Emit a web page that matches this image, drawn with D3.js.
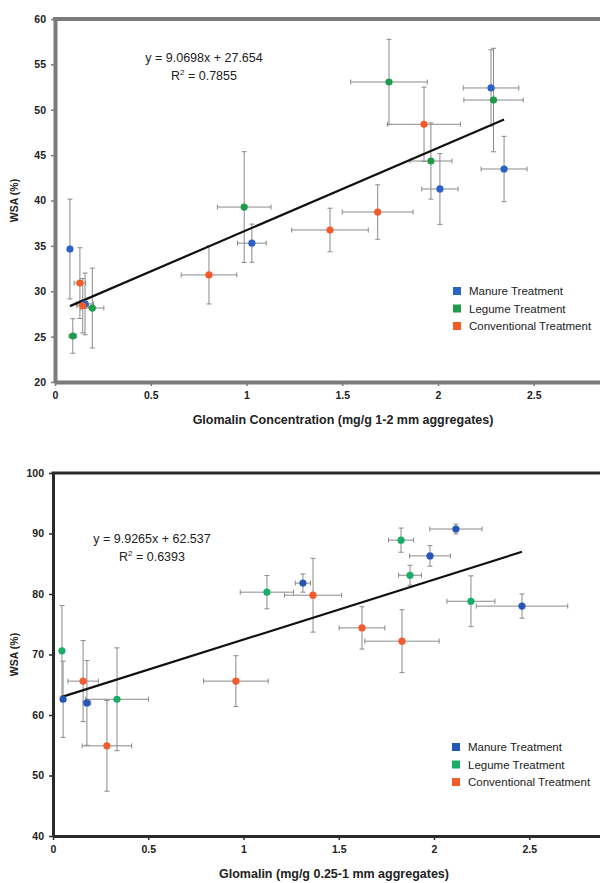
<!DOCTYPE html>
<html>
<head>
<meta charset="utf-8">
<script src="https://cdn.jsdelivr.net/npm/d3@7"></script>
<style>
  body { margin: 0; background: #fff; }
  svg { display: block; font-family: "Liberation Sans", Arial, sans-serif; }
</style>
</head>
<body>
<svg id="chart"></svg>
<script>
// data, top chart (1-2 mm aggregates)
const manureTopX = [0.078, 0.157, 1.028, 2.01, 2.277, 2.345]
const manureTopY = [34.65, 28.6, 35.3, 41.27, 52.4, 43.47]
const manureTopXErr = [0.01, 0.045, 0.075, 0.095, 0.145, 0.12]
const manureTopYErr = [5.5, 3.4, 2.1, 3.9, 4.2, 3.6]

const legumeTopX = [0.093, 0.195, 0.988, 1.744, 1.963, 2.29]
const legumeTopY = [25.07, 28.15, 39.28, 53.06, 44.35, 51.07]
const legumeTopXErr = [0.02, 0.06, 0.14, 0.2, 0.11, 0.155]
const legumeTopYErr = [1.9, 4.4, 6.1, 4.7, 4.2, 5.7]

const convTopX = [0.13, 0.145, 0.804, 1.436, 1.685, 1.927]
const convTopY = [30.9, 28.4, 31.8, 36.75, 38.73, 48.4]
const convTopXErr = [0.03, 0.03, 0.145, 0.2, 0.185, 0.19]
const convTopYErr = [3.9, 3.0, 3.2, 2.4, 3.0, 4.1]

// bottom chart (0.25-1 mm aggregates)
const manureBotX = [0.053, 0.178, 1.312, 1.979, 2.115, 2.462]
const manureBotY = [62.6, 62.0, 81.8, 86.3, 90.74, 78.0]
const manureBotXErr = [0.01, 0.02, 0.04, 0.107, 0.137, 0.24]
const manureBotYErr = [6.3, 7.0, 1.5, 1.7, 0.8, 2.0]

const legumeBotX = [0.047, 0.336, 1.123, 1.827, 1.874, 2.194]
const legumeBotY = [70.6, 62.6, 80.3, 88.9, 83.1, 78.8]
const legumeBotXErr = [0.01, 0.165, 0.14, 0.066, 0.06, 0.126]
const legumeBotYErr = [7.5, 8.5, 2.75, 2.0, 1.65, 4.2]

const convBotX = [0.158, 0.283, 0.96, 1.365, 1.622, 1.832]
const convBotY = [65.6, 54.9, 65.6, 79.8, 74.4, 72.2]
const convBotXErr = [0.08, 0.13, 0.17, 0.15, 0.12, 0.195]
const convBotYErr = [6.7, 7.5, 4.2, 6.1, 3.5, 5.2]

// trend lines
const slopes = [9.0698, 9.9265]
const intercepts = [27.654, 62.537]
const equations = ["y = 9.0698x + 27.654", "y = 9.9265x + 62.537"]
const rSquared = ["0.7855", "0.6393"]

const seriesNames = ["Manure Treatment", "Legume Treatment", "Conventional Treatment"]
const xTicks = [0, 0.5, 1, 1.5, 2, 2.5]
const xTickLabels = ["0", "0.5", "1", "1.5", "2", "2.5"]
const yTicksTop = [20, 25, 30, 35, 40, 45, 50, 55, 60]
const yTicksBot = [40, 50, 60, 70, 80, 90, 100]
const xTitles = ["Glomalin Concentration (mg/g 1-2 mm aggregates)", "Glomalin (mg/g 0.25-1 mm aggregates)"]
const yTitle = "WSA (%)"

let width = 600
let height = 883

let svg = d3.select("#chart")
svg.attr("width", width).attr("height", height)

let zip = (xs, ys, xe, ye) => xs.map((x, i) => ({ x: x, y: ys[i], xe: xe[i], ye: ye[i] }))

let charts = [
    {
        left: 55, top: 19, bottom: 382, unit: 191.5, yDomain: [20, 60], yTicks: yTicksTop,
        axisColor: "#7b7b7b", axisWidth: 4, eqX: 204, eqY: 62, titleX: 343,
        legendX: 453, legendY: 291,
        colors: ["#2b62c6", "#1f9c4a", "#f25a2a"],
        series: [
            zip(manureTopX, manureTopY, manureTopXErr, manureTopYErr),
            zip(legumeTopX, legumeTopY, legumeTopXErr, legumeTopYErr),
            zip(convTopX, convTopY, convTopXErr, convTopYErr)
        ]
    },
    {
        left: 53, top: 473, bottom: 836, unit: 190.5, yDomain: [40, 100], yTicks: yTicksBot,
        axisColor: "#2a2a2a", axisWidth: 3, eqX: 152, eqY: 543, titleX: 334,
        legendX: 452, legendY: 747,
        colors: ["#2656b8", "#19ad68", "#f35a2c"],
        series: [
            zip(manureBotX, manureBotY, manureBotXErr, manureBotYErr),
            zip(legumeBotX, legumeBotY, legumeBotXErr, legumeBotYErr),
            zip(convBotX, convBotY, convBotXErr, convBotYErr)
        ]
    }
]

charts.forEach((c, k) => {
    let g = svg.append("g")

    let xScale = d3.scaleLinear().domain([0, 3]).range([c.left, c.left + 3 * c.unit])
    let yScale = d3.scaleLinear().domain(c.yDomain).range([c.bottom, c.top])

    // error bars
    let capY = 2.5
    c.series.forEach((s, si) => {
        let eg = g.append("g").attr("stroke", "#8a8a8a").attr("stroke-width", 1).attr("fill", "none")
        s.forEach(d => {
            let cx = xScale(d.x), cy = yScale(d.y)
            let y1 = yScale(d.y + d.ye), y2 = yScale(d.y - d.ye)
            let x1 = xScale(d.x - d.xe), x2 = xScale(d.x + d.xe)
            eg.append("line").attr("x1", cx).attr("x2", cx).attr("y1", y1).attr("y2", y2)
            eg.append("line").attr("x1", cx - capY).attr("x2", cx + capY).attr("y1", y1).attr("y2", y1)
            eg.append("line").attr("x1", cx - capY).attr("x2", cx + capY).attr("y1", y2).attr("y2", y2)
            eg.append("line").attr("x1", x1).attr("x2", x2).attr("y1", cy).attr("y2", cy)
            eg.append("line").attr("x1", x1).attr("x2", x1).attr("y1", cy - capY).attr("y2", cy + capY)
            eg.append("line").attr("x1", x2).attr("x2", x2).attr("y1", cy - capY).attr("y2", cy + capY)
        })
    })

    // trend line across the data range
    let allX = c.series.flat().map(d => d.x)
    let x0 = d3.min(allX), x1 = d3.max(allX)
    g.append("line")
        .attr("x1", xScale(x0)).attr("y1", yScale(slopes[k] * x0 + intercepts[k]))
        .attr("x2", xScale(x1)).attr("y2", yScale(slopes[k] * x1 + intercepts[k]))
        .attr("stroke", "#111").attr("stroke-width", 2.2)

    // points
    c.series.forEach((s, si) => {
        g.selectAll(null)
            .data(s)
            .enter()
            .append("circle")
            .attr("cx", d => xScale(d.x))
            .attr("cy", d => yScale(d.y))
            .attr("r", 3.6)
            .attr("fill", c.colors[si])
    })

    // axes
    let xAxis = d3.axisBottom(xScale)
        .tickValues(xTicks)
        .tickFormat((d, i) => xTickLabels[i])
        .tickSize(4).tickSizeOuter(0).tickPadding(6)
    let yAxis = d3.axisLeft(yScale)
        .tickValues(c.yTicks)
        .tickFormat(d3.format("d"))
        .tickSize(4).tickSizeOuter(0).tickPadding(5)

    let gx = g.append("g").attr("transform", "translate(0," + c.bottom + ")").call(xAxis)
    let gy = g.append("g").attr("transform", "translate(" + c.left + ",0)").call(yAxis)
    ;[gx, gy].forEach(a => {
        a.select(".domain").attr("stroke", c.axisColor).attr("stroke-width", c.axisWidth)
        a.selectAll(".tick line").attr("stroke", c.axisColor).attr("stroke-width", 1.5)
        a.selectAll("text").attr("fill", "#222").style("font-size", "10.5px").style("font-weight", "bold")
    })

    // top border
    g.append("line")
        .attr("x1", c.left - c.axisWidth / 2).attr("x2", width)
        .attr("y1", c.top).attr("y2", c.top)
        .attr("stroke", c.axisColor).attr("stroke-width", c.axisWidth)

    // equation
    g.append("text")
        .attr("x", c.eqX).attr("y", c.eqY)
        .attr("text-anchor", "middle")
        .style("font-size", "12.5px").attr("fill", "#222")
        .text(equations[k])
    let r2 = g.append("text")
        .attr("x", c.eqX).attr("y", c.eqY + 18)
        .attr("text-anchor", "middle")
        .style("font-size", "12.5px").attr("fill", "#222")
    r2.append("tspan").text("R")
    r2.append("tspan").attr("dy", -5).style("font-size", "8px").text("2")
    r2.append("tspan").attr("dy", 5).text(" = " + rSquared[k])

    // legend
    seriesNames.forEach((name, i) => {
        let ly = c.legendY + i * 17.5
        g.append("rect")
            .attr("x", c.legendX).attr("y", ly - 4)
            .attr("width", 8).attr("height", 8)
            .attr("fill", c.colors[i])
        g.append("text")
            .attr("x", c.legendX + 16).attr("y", ly + 4)
            .style("font-size", "11.5px").attr("fill", "#222")
            .text(name)
    })

    // axis titles
    g.append("text")
        .attr("x", c.titleX).attr("y", c.bottom + 42)
        .attr("text-anchor", "middle")
        .style("font-size", "12.5px").style("font-weight", "bold").attr("fill", "#222")
        .text(xTitles[k])
    g.append("text")
        .attr("transform", "translate(18," + ((c.top + c.bottom) / 2) + ") rotate(-90)")
        .attr("text-anchor", "middle")
        .style("font-size", "10.5px").style("font-weight", "bold").attr("fill", "#222")
        .text(yTitle)
})
</script>
</body>
</html>
